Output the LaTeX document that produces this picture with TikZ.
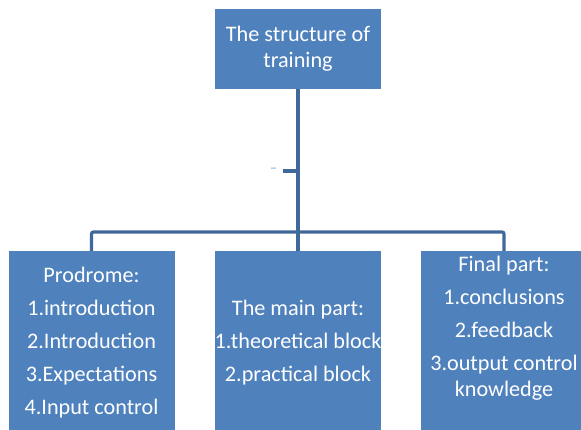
\documentclass[tikz,border=0pt]{standalone}
\usepackage{fontspec}
\setmainfont{Carlito}
\usepackage{tikz}
\usetikzlibrary{positioning,calc}
\definecolor{boxblue}{RGB}{79,129,189}
\definecolor{lineblue}{RGB}{64,104,154}
\definecolor{dashblue}{RGB}{130,162,210}

\begin{document}
\begin{tikzpicture}[
  x=1pt,y=-1pt,
  font=\fontsize{22.2}{26}\selectfont,
  box/.style={fill=boxblue,text=white,align=center,inner sep=0pt,minimum width=166pt},
  head/.style={box,minimum height=80pt},
  part/.style={box,minimum height=184pt},
  conn/.style={draw=lineblue,line width=3.2pt}]
\clip (0,0) rectangle (581,430);
\node[head] (top) at (298,49) {The structure of\\training};
\node[part] (pro) at (91.5,343) {Prodrome:\\[7pt]1.introduction\\[7pt]2.Introduction\\[7pt]3.Expectations\\[7pt]4.Input control};
\node[part] (main) at (298,343) {The main part:\\[7pt]1.theoretical block\\[7pt]2.practical block};
\node[part] (fin) at (504,343) {Final part:\\[7pt]1.conclusions\\[7pt]2.feedback\\[7pt]3.output control\\knowledge\\\strut};
\coordinate (hub) at (298,232);
\coordinate (tick) at (283,171);
\node[text=dashblue,font=\fontsize{14}{14}\selectfont,inner sep=0pt] (dash) at (273.5,170) {--};
\draw[conn] (top.south) -- (hub);
\draw[conn,rounded corners=2pt] (pro.north) |- (hub) -| (fin.north);
\draw[conn] (hub) -- (main.north);
\draw[conn] (tick) -- (tick -| top.south);
\end{tikzpicture}
\end{document}
